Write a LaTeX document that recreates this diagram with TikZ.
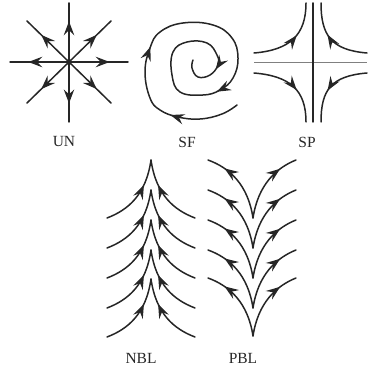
\documentclass[tikz,border=0pt]{standalone}
\usepackage{fontspec}
\setmainfont{Liberation Serif}
\usetikzlibrary{arrows.meta,decorations.markings}
\begin{document}
\begin{tikzpicture}[x=1pt,y=-1pt,
  ln/.style={line width=1.5pt, draw=black!85, line cap=round},
  thinln/.style={line width=0.9pt, draw=black!50},
  am/.style={postaction={decorate, decoration={markings, mark=at position #1 with {\arrow{Stealth[length=14pt,width=10.5pt,inset=5pt]}}}}},
  lbl/.style={font=\fontsize{15.5}{15.5}\selectfont, text=black!85, inner sep=0pt}]
\useasboundingbox (0,0) rectangle (367,371);

% ---------- UN ----------
\coordinate (unc) at (69,62);
\coordinate (unE) at (128,62);
\coordinate (unW) at (10,62);
\coordinate (unN) at (69,3);
\coordinate (unS) at (69,122);
\coordinate (unNE) at (111,21);
\coordinate (unNW) at (27,21);
\coordinate (unSE) at (111,103);
\coordinate (unSW) at (27,103);
\foreach \d in {E,W,N,S} \draw[ln, am=0.69] (unc) -- (un\d);
\foreach \d in {NE,NW,SE,SW} \draw[ln, am=0.66] (unc) -- (un\d);
\node[lbl] (lun) at (64,142) {UN};

% ---------- SF ----------
\draw[ln, am=0.14, am=0.30, am=0.62, am=0.92] plot[smooth, tension=0.7] coordinates {
  (237,105) (222,114) (200,119) (178,117) (160,110) (150,98) (145,72) (150,48)
  (160,32) (183,23) (213,25) (232,38) (238,58) (233,78) (220,90) (203,95)
  (180,92) (172,75) (173,52) (187,42) (207,43) (217,55) (218,65) (210,75)
  (198,77) (192,68) (193,60)};
\node[lbl] (lsf) at (187,142) {SF};

% ---------- SP ----------
\coordinate (spN) at (313,3);
\coordinate (spS) at (313,122);
\coordinate (spW) at (254,62);
\coordinate (spE) at (367,62);
\draw[thinln] (spW) -- (spE);
\draw[ln] (spN) -- (spS);
\draw[ln, am=0.58] (254,53) .. controls (290,50) and (306,35) .. (306,3);
\draw[ln, am=0.58] (367,53) .. controls (331,50) and (321,35) .. (321,3);
\draw[ln, am=0.58] (254,73) .. controls (290,76) and (306,90) .. (306,122);
\draw[ln, am=0.58] (367,73) .. controls (331,76) and (321,90) .. (321,122);
\node[lbl] (lsp) at (307,142) {SP};

% ---------- NBL ----------
\foreach \a in {160,190,220,250,279} {
  \draw[ln, am=0.66] (107,\a+58) .. controls (128,\a+50) and (146,\a+35) .. (151,\a);
  \draw[ln, am=0.66] (195,\a+58) .. controls (174,\a+50) and (156,\a+35) .. (151,\a);
}
\node[lbl] (lnbl) at (141,358) {NBL};

% ---------- PBL ----------
\foreach \t in {160,190,220,250,278} {
  \draw[ln, am=0.76] (253,\t+58) .. controls (248,\t+25) and (230,\t+8) .. (208,\t);
  \draw[ln, am=0.76] (253,\t+58) .. controls (258,\t+25) and (276,\t+8) .. (296,\t);
}
\node[lbl] (lpbl) at (243,358) {PBL};
\end{tikzpicture}
\end{document}
